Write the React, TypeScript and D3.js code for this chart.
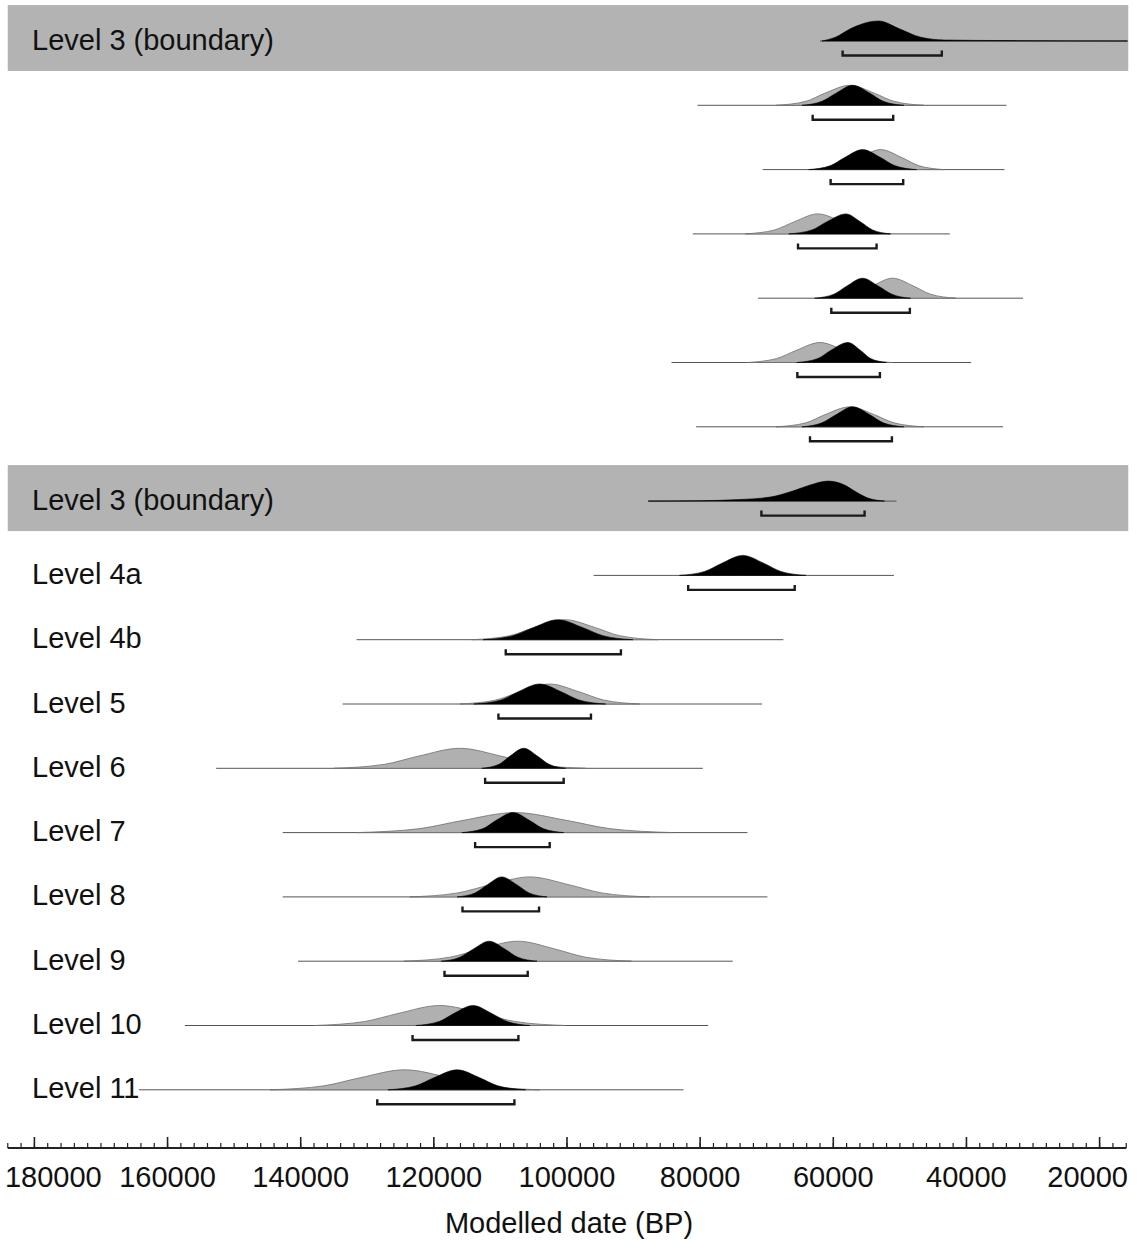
import React from "react";
import * as d3 from "d3";

type Pt = [number, number];

const rowLabels: string[] = [
  "Level 3 (boundary)", "", "", "", "", "", "",
  "Level 3 (boundary)", "Level 4a", "Level 4b", "Level 5", "Level 6",
  "Level 7", "Level 8", "Level 9", "Level 10", "Level 11",
];
const boundaryRows: number[] = [0, 7];

const rangeFrom: number[] = [62000, 80400, 70600, 81100, 71300, 84300, 80600, 87800, 96000, 131600, 133700, 152700, 142700, 142700, 140400, 157400, 164300];
const rangeTo: number[] = [15800, 34000, 34300, 42500, 31500, 39300, 34500, 50500, 50900, 67500, 70700, 79600, 72900, 69900, 75100, 78800, 82500];

const bracketFrom: number[] = [58600, 63100, 60400, 65300, 60300, 65400, 63500, 70800, 81800, 109200, 110300, 112300, 113800, 115700, 118400, 123200, 128500];
const bracketTo: number[] = [43700, 51000, 49500, 53500, 48500, 53000, 51200, 55300, 65800, 91900, 96400, 100500, 102600, 104200, 105900, 107300, 107900];

const posterior: Pt[][] = [
  [[61700, 0], [59600, 0.2], [57500, 0.6], [53200, 1], [50000, 0.6], [47000, 0.2], [43300, 0.05], [34000, 0.02], [15800, 0]],
  [[64700, 0], [61700, 0.2], [59600, 0.6], [57100, 1], [54500, 0.6], [52500, 0.2], [49400, 0]],
  [[63700, 0], [60400, 0.2], [58300, 0.6], [55600, 1], [52900, 0.6], [50800, 0.2], [47500, 0]],
  [[66700, 0], [63200, 0.2], [61000, 0.6], [58100, 1], [55900, 0.6], [54100, 0.2], [51400, 0]],
  [[62800, 0], [59900, 0.2], [58000, 0.6], [55600, 1], [53200, 0.6], [51200, 0.2], [48400, 0]],
  [[65500, 0], [62300, 0.2], [60400, 0.6], [57800, 1], [55900, 0.6], [54400, 0.2], [52000, 0]],
  [[64700, 0], [61700, 0.2], [59600, 0.6], [57100, 1], [54500, 0.6], [52500, 0.2], [49400, 0]],
  [[87800, 0], [80000, 0.02], [74000, 0.08], [69500, 0.2], [66100, 0.5], [63500, 0.8], [60800, 1], [58300, 0.8], [56800, 0.5], [54800, 0.15], [52300, 0]],
  [[83100, 0], [79300, 0.2], [76800, 0.6], [73600, 1], [70400, 0.6], [67900, 0.2], [64100, 0]],
  [[112600, 0], [108100, 0.2], [105100, 0.6], [101400, 1], [97600, 0.6], [94600, 0.2], [90100, 0]],
  [[114000, 0], [109900, 0.2], [107400, 0.6], [104100, 1], [100800, 0.6], [98200, 0.2], [94200, 0]],
  [[112800, 0], [110200, 0.2], [108600, 0.6], [106500, 1], [104400, 0.6], [102700, 0.2], [100200, 0]],
  [[115800, 0], [112600, 0.2], [110700, 0.6], [108100, 1], [105600, 0.6], [103600, 0.2], [100500, 0]],
  [[116500, 0], [113800, 0.2], [112000, 0.6], [109800, 1], [107500, 0.6], [105700, 0.2], [103000, 0]],
  [[118900, 0], [116100, 0.2], [114100, 0.6], [111700, 1], [109300, 0.6], [107400, 0.2], [104500, 0]],
  [[122700, 0], [119200, 0.2], [117000, 0.6], [114100, 1], [111300, 0.6], [109000, 0.2], [105600, 0]],
  [[126900, 0], [122700, 0.2], [120000, 0.6], [116500, 1], [113100, 0.6], [110400, 0.2], [106200, 0]],
];

const prior: (Pt[] | null)[] = [
  null,
  [[68600, 0], [64100, 0.2], [61300, 0.6], [57500, 1], [53800, 0.6], [50900, 0.2], [46400, 0]],
  [[62300, 0], [58500, 0.2], [56000, 0.6], [52900, 1], [49700, 0.6], [47200, 0.2], [43400, 0]],
  [[73200, 0], [68800, 0.2], [65900, 0.6], [62300, 1], [58700, 0.6], [55900, 0.2], [51500, 0]],
  [[60500, 0], [56800, 0.2], [54200, 0.6], [51100, 1], [47900, 0.6], [45400, 0.2], [41600, 0]],
  [[72900, 0], [68500, 0.2], [65600, 0.6], [62000, 1], [58400, 0.6], [55600, 0.2], [51200, 0]],
  [[68600, 0], [64100, 0.2], [61300, 0.6], [57500, 1], [53800, 0.6], [50900, 0.2], [46400, 0]],
  null,
  null,
  [[114300, 0], [108600, 0.2], [105000, 0.6], [100300, 1], [95700, 0.6], [92100, 0.2], [86400, 0]],
  [[116100, 0], [110700, 0.2], [107100, 0.6], [102600, 1], [98100, 0.6], [94500, 0.2], [89100, 0]],
  [[135000, 0], [127400, 0.2], [122400, 0.6], [116100, 1], [109800, 0.6], [104800, 0.2], [97200, 0]],
  [[131700, 0], [122100, 0.2], [115800, 0.6], [107800, 1], [99900, 0.6], [93600, 0.2], [84000, 0]],
  [[123600, 0], [116400, 0.2], [111600, 0.6], [105600, 1], [99600, 0.6], [94800, 0.2], [87600, 0]],
  [[124500, 0], [117600, 0.2], [113100, 0.6], [107400, 1], [101700, 0.6], [97200, 0.2], [90300, 0]],
  [[138000, 0], [130400, 0.2], [125400, 0.6], [119100, 1], [112800, 0.6], [107800, 0.2], [100200, 0]],
  [[144600, 0], [136500, 0.2], [131100, 0.6], [124400, 1], [117600, 0.6], [112200, 0.2], [104100, 0]],
];

const majorTicks: number[] = [180000, 160000, 140000, 120000, 100000, 80000, 60000, 40000, 20000];
const axisMin = 16000;
const axisMax = 184000;
const minorStep = 2000;
const axisTitle = "Modelled date (BP)";

const FONT = "'Liberation Sans', Arial, Helvetica, sans-serif";

export default function App() {
  const W = 1139, H = 1245;
  const x = d3.scaleLinear().domain([180000, 20000]).range([34.4, 1099.6]);
  const yRow = d3.scaleLinear().domain([0, 16]).range([41, 41 + 64.3 * 16]);
  const gap = (i: number) => (i >= 8 ? 20 : i >= 7 ? 10 : 0);
  const base = (i: number) => yRow(i) + gap(i);
  const peakH = 20;
  const areaAt = (b: number) =>
    d3.area<Pt>().x((d) => x(d[0])).y0(b).y1((d) => b - d[1] * peakH).curve(d3.curveMonotoneX);

  const axisY = 1148;
  const minor = d3.range(axisMin, axisMax + 1, minorStep);
  const fs = 29;

  return (
    <svg width={W} height={H} style={{ position: "absolute", left: 0, top: 0, display: "block", background: "#fff" }} fontFamily={FONT}>
      <rect x={0} y={0} width={W} height={H} fill="#fff" />
      {boundaryRows.map((i) => (
        <rect key={"band" + i} x={x(axisMax)} y={base(i) - 36} width={x(axisMin) - x(axisMax) + 2} height={66} fill="#b3b3b3" />
      ))}
      {rowLabels.map((lab, i) => {
        const b = base(i);
        const pr = prior[i];
        return (
          <g key={"row" + i}>
            {lab && (
              <text x={32} y={b + 8.5} fontSize={fs} fill="#111">{lab}</text>
            )}
            <line x1={x(rangeFrom[i])} x2={x(rangeTo[i])} y1={b} y2={b} stroke="#555" strokeWidth={1} />
            {pr && <path d={areaAt(b)(pr) || ""} fill="#b0b0b0" stroke="#707070" strokeWidth={0.8} />}
            <path d={areaAt(b)(posterior[i]) || ""} fill="#000" stroke="#000" strokeWidth={0.6} />
            <path
              d={`M${x(bracketFrom[i])},${b + 9.5}V${b + 14.5}H${x(bracketTo[i])}V${b + 9.5}`}
              fill="none" stroke="#1a1a1a" strokeWidth={2.4} strokeLinejoin="miter"
            />
          </g>
        );
      })}
      <line x1={x(axisMax)} x2={x(axisMin)} y1={axisY} y2={axisY} stroke="#222" strokeWidth={2} />
      {minor.map((v) => (
        <line key={"mn" + v} x1={x(v)} x2={x(v)} y1={axisY} y2={axisY - 5} stroke="#222" strokeWidth={1.2} />
      ))}
      {majorTicks.map((v) => {
        const label = String(v);
        const w = label.length * 0.556 * fs;
        const cx = Math.max(5 + w / 2, Math.min(1128 - w / 2, x(v)));
        return (
          <g key={"mj" + v}>
            <line x1={x(v)} x2={x(v)} y1={axisY} y2={axisY - 11} stroke="#222" strokeWidth={1.6} />
            <text x={cx} y={1187} fontSize={fs} textAnchor="middle" fill="#111">{label}</text>
          </g>
        );
      })}
      <text x={569} y={1233} fontSize={fs} textAnchor="middle" fill="#111">{axisTitle}</text>
    </svg>
  );
}
